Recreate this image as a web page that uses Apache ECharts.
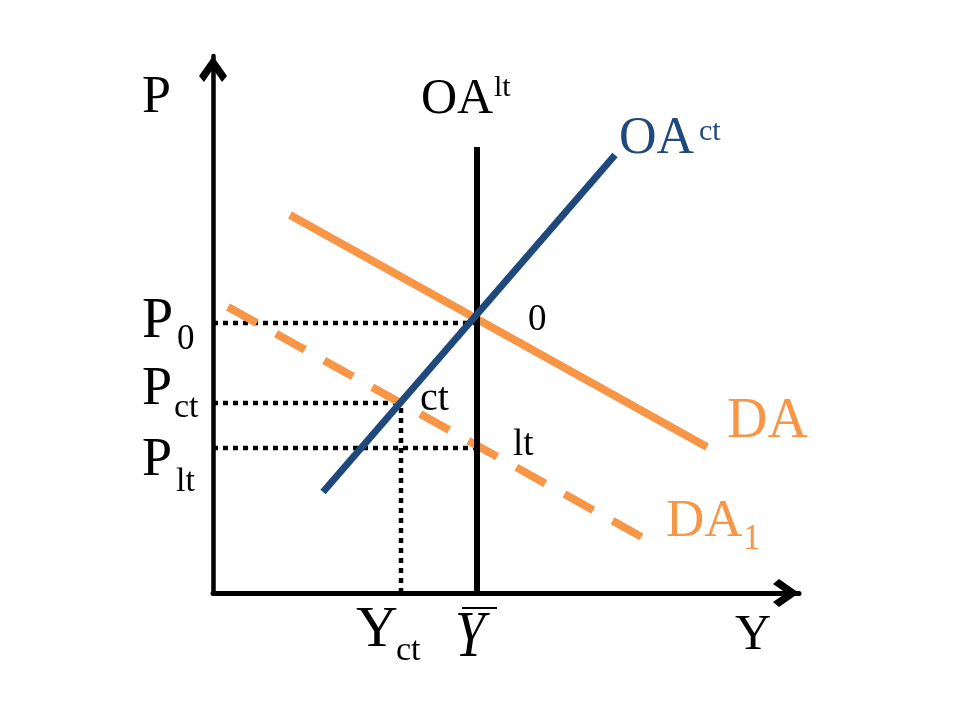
<!DOCTYPE html>
<html>
<head>
<meta charset="utf-8">
<script src="https://cdn.jsdelivr.net/npm/echarts@6/dist/echarts.min.js"></script>
<style>
  html, body { margin: 0; padding: 0; background: #fff; }
  #chart { width: 960px; height: 720px; }
</style>
</head>
<body>
<div id="chart"></div>
<script>
// curves of the diagram (Y, P) in axis units, origin at the axes corner
var oaLongRun = [[264, 0], [264, 446]];          // OA lt (vertical at Y bar)
var oaShortRun = [[110, 101], [402, 438]];       // OA ct
var demand = [[77, 378], [494, 146]];            // DA
var demandShifted = [[15, 286], [434, 53]];      // DA1 (dashed)

// equilibrium levels
var priceLevels = { p0: 270, pct: 190, plt: 145 };
var outputLevels = { yct: 188, ybar: 264 };

var FONT = '"Liberation Serif", "Times New Roman", serif';
var ORANGE = '#F79646';
var BLUE = '#1F497D';

var chart = echarts.init(document.getElementById('chart'));

function txt(s, x, y, size, color, extra) {
    var el = {
        type: 'text', x: x, y: y, z: 100,
        style: {
            text: s, fontFamily: FONT, fontSize: size, fill: color || '#000',
            align: 'left', verticalAlign: 'middle'
        }
    };
    if (extra) {
        for (var k in extra) el[k] = extra[k];
    }
    return el;
}

function dotted(points) {
    return {
        type: 'line', data: points, showSymbol: false, silent: true,
        lineStyle: { color: '#000', width: 4.5, type: [5, 5] }, z: 1
    };
}

// open chevron arrow head
var arrowPath = 'path://M14,0 L28,20 L23,26 L14,13 L5,26 L0,20 Z';

var axisCommon = {
    type: 'value',
    axisTick: { show: false },
    axisLabel: { show: false },
    splitLine: { show: false }
};

var option = {
    backgroundColor: '#fff',
    animation: false,
    grid: { left: 213, top: 56, right: 161, bottom: 127 },
    xAxis: Object.assign({}, axisCommon, {
        min: 0, max: 586,
        axisLine: {
            show: true, onZero: false,
            lineStyle: { color: '#000', width: 5 },
            symbol: ['none', arrowPath], symbolSize: [28, 28], symbolOffset: [0, -13]
        }
    }),
    yAxis: Object.assign({}, axisCommon, {
        min: 0, max: 537,
        axisLine: {
            show: true, onZero: false,
            lineStyle: { color: '#000', width: 4.5 },
            symbol: ['none', arrowPath], symbolSize: [28, 28], symbolOffset: [0, -13]
        }
    }),
    series: [
        dotted([[0, priceLevels.p0], [outputLevels.ybar, priceLevels.p0]]),
        dotted([[0, priceLevels.pct], [outputLevels.yct, priceLevels.pct]]),
        dotted([[outputLevels.yct, 0], [outputLevels.yct, priceLevels.pct]]),
        dotted([[0, priceLevels.plt], [outputLevels.ybar, priceLevels.plt]]),
        {
            name: 'DA1', type: 'line', data: demandShifted, showSymbol: false, z: 2,
            lineStyle: { color: ORANGE, width: 8, type: [33, 22] }
        },
        {
            name: 'DA', type: 'line', data: demand, showSymbol: false, z: 3,
            lineStyle: { color: ORANGE, width: 8 }
        },
        {
            name: 'OAlt', type: 'line', data: oaLongRun, showSymbol: false, z: 4,
            lineStyle: { color: '#000', width: 6 }
        },
        {
            name: 'OAct', type: 'line', data: oaShortRun, showSymbol: false, z: 5,
            lineStyle: { color: BLUE, width: 7 }
        }
    ],
    graphic: [
        txt('P', 142, 98, 52),
        txt('OA', 421, 100, 50),
        txt('lt', 494, 88, 30),
        txt('OA', 619, 139, 52, BLUE),
        txt('ct', 699, 132, 30, BLUE),
        txt('0', 528, 320, 37),
        txt('ct', 420, 399, 40),
        txt('lt', 513, 445, 37),
        txt('DA', 727, 422, 56, ORANGE),
        txt('DA', 666, 522, 53, ORANGE),
        txt('1', 743, 540, 35, ORANGE),
        txt('P', 142, 322, 56),
        txt('0', 177, 340, 35),
        txt('P', 142, 390, 54),
        txt('ct', 174, 408, 34),
        txt('P', 142, 461, 54),
        txt('lt', 176, 482, 34),
        txt('Y', 356, 631, 58),
        txt('ct', 396, 651, 34),
        txt('Y', 455, 639, 54, '#000', { scaleY: 1.2 }),
        {
            type: 'line', z: 100,
            shape: { x1: 462, y1: 608, x2: 497, y2: 608 },
            style: { stroke: '#000', lineWidth: 2 }
        },
        txt('Y', 735, 636, 50)
    ]
};
option.graphic[19].style.fontStyle = 'italic';

chart.setOption(option);
window.addEventListener('resize', function () {
    chart.resize();
});
</script>
</body>
</html>
